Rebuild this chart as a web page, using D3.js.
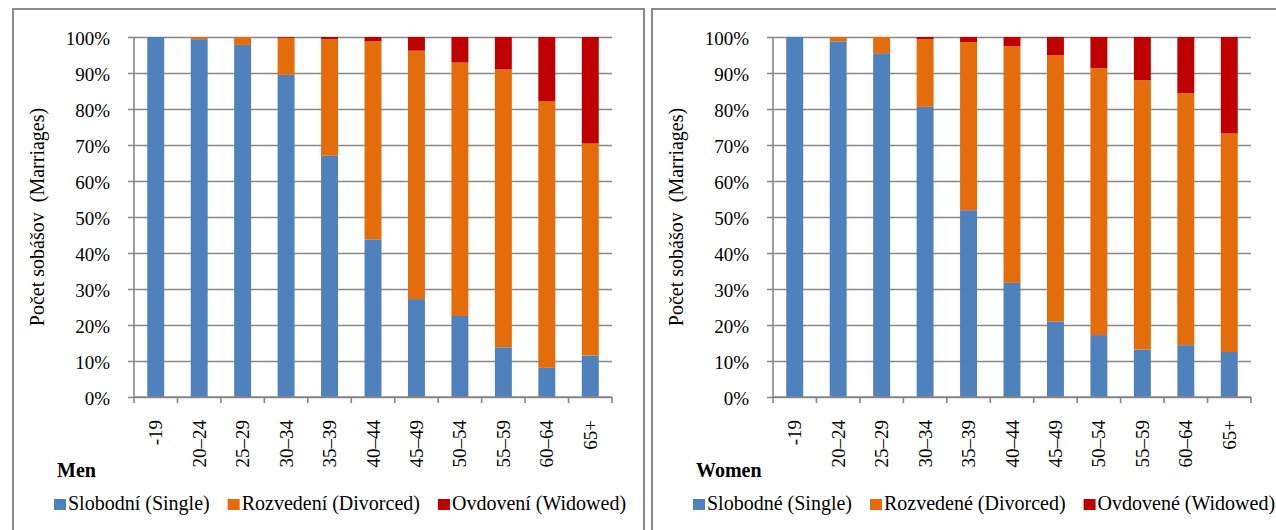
<!DOCTYPE html>
<html>
<head>
<meta charset="utf-8">
<script src="https://cdn.jsdelivr.net/npm/d3@7"></script>
<style>
  html, body { margin: 0; padding: 0; background: #fff; }
  svg { display: block; }
</style>
</head>
<body>
<svg id="chart" width="1276" height="530" style="font-family: 'Liberation Serif', 'Times New Roman', serif;"></svg>
<script>
// ---- Data ----
const categories = ["-19", "20–24", "25–29", "30–34", "35–39", "40–44", "45–49", "50–54", "55–59", "60–64", "65+"];

const menSingle   = [100, 99.4, 97.8, 89.5, 67.0, 43.8, 27.2, 22.5, 13.8, 8.1, 11.5];
const menDivorced = [0, 0.6, 2.2, 10.3, 32.4, 55.0, 69.0, 70.4, 77.2, 74.0, 58.9];
const menWidowed  = [0, 0, 0, 0.2, 0.6, 1.2, 3.8, 7.1, 9.0, 17.9, 29.6];

const womenSingle   = [100, 98.8, 95.5, 80.6, 51.9, 31.7, 21.0, 17.2, 13.2, 14.4, 12.5];
const womenDivorced = [0, 1.2, 4.5, 18.8, 46.7, 65.7, 73.9, 74.2, 74.8, 70.0, 60.7];
const womenWidowed  = [0, 0, 0, 0.6, 1.4, 2.6, 5.1, 8.6, 12.0, 15.6, 26.8];

const yTicks = [0, 10, 20, 30, 40, 50, 60, 70, 80, 90, 100];
const seriesKeys = ["single", "divorced", "widowed"];
const colors = ["#4F81BD", "#E46C0A", "#C00000"];

const menLegend   = ["Slobodní (Single)", "Rozvedení (Divorced)", "Ovdovení (Widowed)"];
const womenLegend = ["Slobodné (Single)", "Rozvedené (Divorced)", "Ovdovené (Widowed)"];
const yTitle = "Počet sobášov  (Marriages)";

const FONT = "'Liberation Serif', 'Times New Roman', serif";
const svg = d3.select("#chart");
const gridColor = "#878787";

function drawPanel(off, title, single, divorced, widowed, legendLabels) {
  const g = svg.append("g").attr("transform", `translate(${off},0)`);
  const left = 134, right = 612, top = 37, bottom = 397;

  const x = d3.scaleBand().domain(categories).range([left, right]);
  const y = d3.scaleLinear().domain([0, 100]).range([bottom, top]);

  const table = categories.map((c, i) => ({ cat: c, single: single[i], divorced: divorced[i], widowed: widowed[i] }));
  const stacked = d3.stack().keys(seriesKeys)(table);

  // gridlines (including outward tick marks)
  const grid = g.append("g").attr("transform", `translate(${left - 6},0)`)
    .call(d3.axisRight(y).tickValues(yTicks).tickSize(right - left + 6).tickFormat(""));
  grid.select(".domain").remove();
  grid.selectAll(".tick line").attr("stroke", gridColor).attr("stroke-width", 1.6);

  // bars
  const bw = x.bandwidth() * 0.39;
  g.append("g").selectAll("g").data(stacked).join("g")
    .attr("fill", (d, i) => colors[i])
    .selectAll("rect").data(d => d).join("rect")
    .attr("x", d => x(d.data.cat) + (x.bandwidth() - bw) / 2)
    .attr("width", bw)
    .attr("y", d => y(d[1]))
    .attr("height", d => Math.max(0, y(d[0]) - y(d[1])));

  // y axis line
  g.append("line").attr("x1", left).attr("x2", left).attr("y1", top).attr("y2", bottom)
    .attr("stroke", gridColor).attr("stroke-width", 1.6);
  // x axis line
  g.append("line").attr("x1", left).attr("x2", right).attr("y1", bottom).attr("y2", bottom)
    .attr("stroke", gridColor).attr("stroke-width", 1.6);
  // x ticks between categories
  const bounds = categories.map(c => x(c)).concat([x.range()[1]]);
  g.append("g").selectAll("line").data(bounds).join("line")
    .attr("x1", d => d).attr("x2", d => d).attr("y1", bottom).attr("y2", bottom + 6)
    .attr("stroke", gridColor).attr("stroke-width", 1.6);

  // y tick labels
  const yl = g.append("g").attr("transform", `translate(${left},0)`)
    .call(d3.axisLeft(y).tickValues(yTicks).tickSize(0).tickPadding(24).tickFormat(d => d + "%"));
  yl.attr("font-family", FONT).attr("font-size", 19);
  yl.select(".domain").remove();
  yl.selectAll("text").attr("fill", "#000").attr("dy", "0.4em");

  // category labels (rotated)
  g.append("g").selectAll("text").data(categories).join("text")
    .attr("transform", d => `translate(${x(d) + x.bandwidth() / 2 + 6.5},420) rotate(-90)`)
    .attr("text-anchor", "end")
    .attr("font-family", FONT)
    .attr("font-size", 19)
    .text(d => d);

  // y title
  g.append("text")
    .attr("transform", `translate(44,${(top + bottom) / 2}) rotate(-90)`)
    .attr("text-anchor", "middle")
    .attr("font-family", FONT)
    .attr("font-size", 20)
    .style("white-space", "pre")
    .text(yTitle);

  // panel title
  g.append("text")
    .attr("x", 57).attr("y", 477)
    .attr("font-family", FONT)
    .attr("font-size", 20)
    .attr("font-weight", "bold")
    .text(title);

  // legend
  let lx = 54;
  legendLabels.forEach((lab, i) => {
    g.append("rect").attr("x", lx).attr("y", 499).attr("width", 12).attr("height", 11).attr("fill", colors[i]);
    const t = g.append("text")
      .attr("x", lx + 14).attr("y", 510)
      .attr("font-family", FONT)
      .attr("font-size", 20)
      .text(lab);
    const w = t.node().getComputedTextLength();
    lx += 14 + w + 18;
  });
}

// panel borders
svg.append("path").attr("d", "M13,531 V9 H644 V531").attr("fill", "none").attr("stroke", "#8a8a8a").attr("stroke-width", 2);
svg.append("path").attr("d", "M652,531 V9 H1280").attr("fill", "none").attr("stroke", "#8a8a8a").attr("stroke-width", 2);

drawPanel(0, "Men", menSingle, menDivorced, menWidowed, menLegend);
drawPanel(639, "Women", womenSingle, womenDivorced, womenWidowed, womenLegend);
</script>
</body>
</html>
